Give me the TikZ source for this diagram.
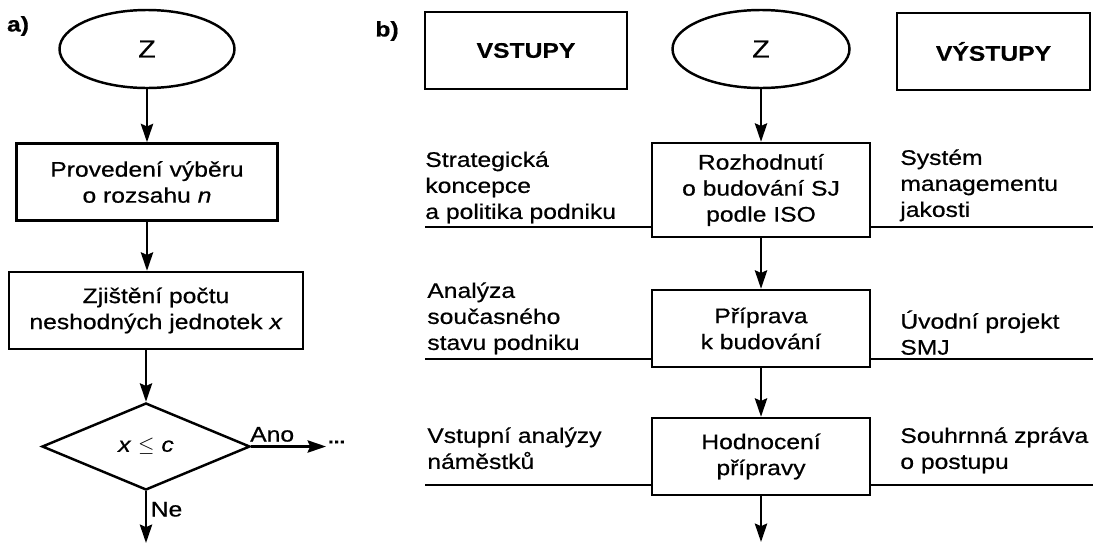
\documentclass[tikz,border=0pt]{standalone}
\usepackage{fontspec}
\setmainfont{Liberation Sans}[FakeStretch=1.17, FakeBold=0.6]
\usetikzlibrary{arrows.meta,shapes.geometric}

\begin{document}
\begin{tikzpicture}[
    font=\fontsize{12}{14.8}\selectfont,
    box/.style={draw, line width=1.4pt, minimum height=1.54cm, align=center, inner sep=2pt},
    term/.style={draw, ellipse, line width=1.4pt, minimum width=3.5cm, minimum height=1.56cm, font=\fontsize{14}{16}\selectfont},
    dec/.style={draw, diamond, minimum width=4.16cm, minimum height=1.74cm, inner sep=0pt, line width=1.4pt},
    arr/.style={-{Stealth[length=10.5pt, width=7pt, inset=1.5pt]}, line width=1.4pt},
    ln/.style={line width=1.4pt},
    txt/.style={anchor=north west, align=left, inner sep=0pt},
    head/.style={font=\fontsize{12}{14.8}\selectfont\bfseries},
    lbl/.style={inner sep=2pt}
]
\useasboundingbox (0,0) rectangle (21.86,-10.88);

% a)
\node[head] (la) at (0.36,-0.52) {a)};
\node[term] (za) at (2.94,-0.98) {Z};
\node[box, minimum width=5.22cm] (vyber) at (2.94,-3.64) {Provedení výběru\\o rozsahu \textit{n}};
\node[box, minimum width=5.88cm] (pocet) at (3.12,-6.21) {Zjištění počtu\\neshodných jednotek \textit{x}};
\node[dec] (podm) at (2.92,-8.93) {\textit{x} $\le$ \textit{c}};
\node[inner sep=1pt, anchor=west, font=\bfseries] (dots) at (6.52,-8.84) {...};
\coordinate (ne) at (2.92,-10.86);

\draw[arr] (za) -- (vyber);
\draw[arr] (vyber.south) -- (vyber.south |- pocet.north);
\draw[arr] (podm |- pocet.south) -- (podm);
\draw[arr] (podm.east) -- node[lbl, pos=0.28, above] {Ano} (podm.east -| dots.west);
\draw[arr] (podm.south) -- node[lbl, pos=0.35, right] {Ne} (ne);

% b)
\node[head] (lb) at (7.74,-0.62) {b)};
\node[box, head, minimum width=4.04cm] (vst) at (10.52,-1.01) {VSTUPY};
\node[term, minimum width=3.54cm] (zb) at (15.22,-0.98) {Z};
\node[box, head, minimum width=3.86cm] (vyst) at (19.87,-1.03) {VÝSTUPY};
\node[box, minimum width=4.36cm, minimum height=1.88cm] (rozh) at (15.22,-3.8) {Rozhodnutí\\o budování SJ\\podle ISO};
\node[box, minimum width=4.36cm] (prip) at (15.22,-6.57) {Příprava\\k budování};
\node[box, minimum width=4.36cm] (hodn) at (15.22,-9.13) {Hodnocení\\přípravy};
\coordinate (konec) at (15.22,-10.84);

\draw[arr] (zb) -- (rozh);
\draw[arr] (rozh) -- (prip);
\draw[arr] (prip) -- (hodn);
\draw[arr] (hodn) -- (konec);

% vstupy a vystupy
\node[txt] (strat) at (8.5,-3.02) {Strategická\\koncepce\\a politika podniku};
\node[txt] (anal) at (8.54,-5.64) {Analýza\\současného\\stavu podniku};
\node[txt] (vstan) at (8.54,-8.54) {Vstupní analýzy\\náměstků};
\node[txt] (sys) at (18.0,-2.98) {Systém\\managementu\\jakosti};
\node[txt] (uvod) at (18.0,-6.2) {Úvodní projekt\\SMJ};
\node[txt] (zprava) at (18.0,-8.54) {Souhrnná zpráva\\o postupu};

\coordinate (in1) at (8.5,-4.54);
\coordinate (in2) at (8.5,-7.18);
\coordinate (in3) at (8.5,-9.7);
\coordinate (out1) at (21.86,-4.54);
\coordinate (out2) at (21.86,-7.18);
\coordinate (out3) at (21.86,-9.7);
\draw[ln] (in1) -- (in1 -| rozh.west);
\draw[ln] (in2) -- (in2 -| prip.west);
\draw[ln] (in3) -- (in3 -| hodn.west);
\draw[ln] (out1 -| rozh.east) -- (out1);
\draw[ln] (out2 -| prip.east) -- (out2);
\draw[ln] (out3 -| hodn.east) -- (out3);
\end{tikzpicture}
\end{document}
